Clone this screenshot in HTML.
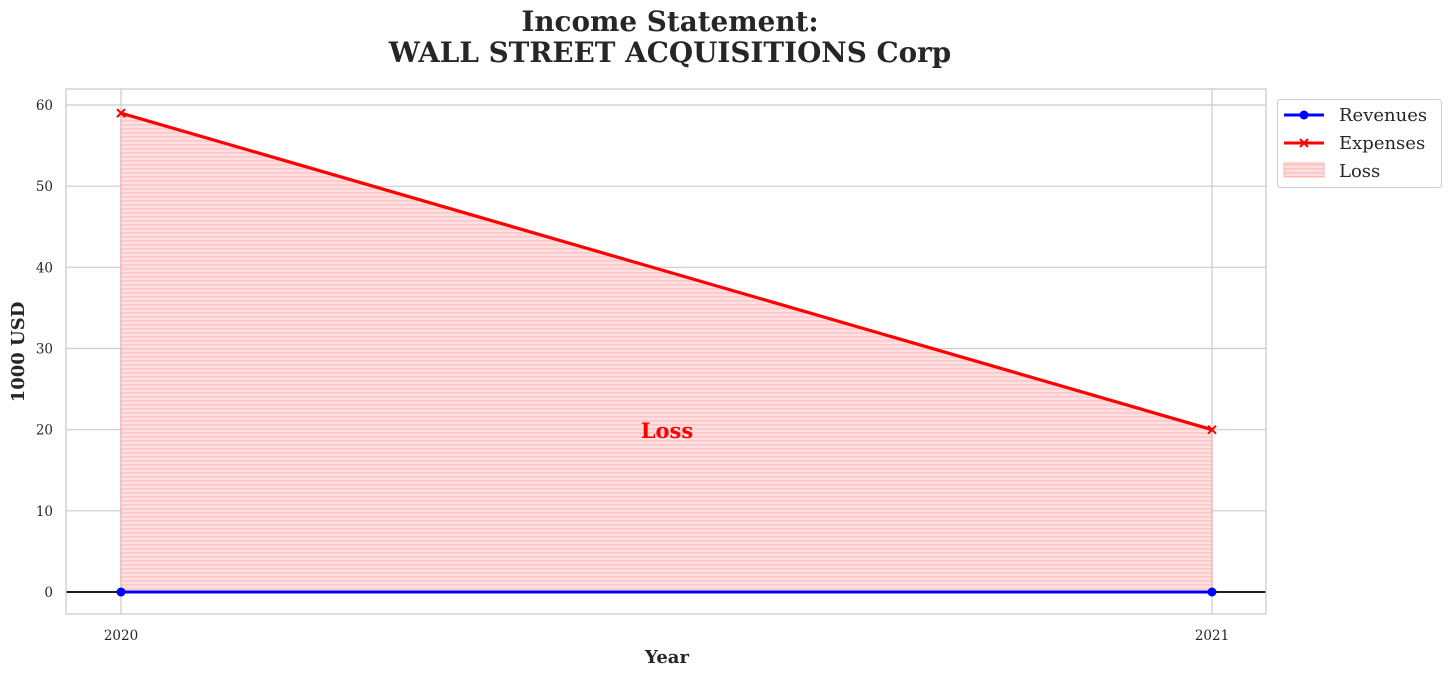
<!DOCTYPE html>
<html><head><meta charset="utf-8"><style>
body{margin:0;background:#fff;}
svg{display:block;font-family:"DejaVu Serif","Liberation Serif",serif;}
</style></head><body>
<svg id="chart" width="1452" height="676" viewBox="0 0 1452 676">
<defs>
<pattern id="hatch" width="8" height="4" patternUnits="userSpaceOnUse">
<rect width="8" height="4" fill="#ffdede"/>
<rect y="0" width="8" height="1.6" fill="#ffc4c4"/>
</pattern>
</defs>
<text x="670" y="31" text-anchor="middle" font-size="27.8" font-weight="bold" fill="#262626">Income Statement:</text>
<text x="670" y="62" text-anchor="middle" font-size="27.8" font-weight="bold" fill="#262626">WALL STREET ACQUISITIONS Corp</text>
<g id="grid"></g>
<g id="fill"></g>
<g id="axes"></g>
<g id="series"></g>
<rect x="66" y="89" width="1200" height="525" fill="none" stroke="#ccc" stroke-width="1.3"/>
<text x="667" y="438" text-anchor="middle" font-size="21" font-weight="bold" fill="#ff0000">Loss</text>
<text x="667" y="663" text-anchor="middle" font-size="18" font-weight="bold" fill="#262626">Year</text>
<text transform="translate(24,352) rotate(-90)" text-anchor="middle" font-size="18" font-weight="bold" fill="#262626">1000 USD</text>
<g>
<rect x="1277.5" y="99.5" width="164" height="88" rx="3" fill="#fff" stroke="#ccc"/>
<g><line x1="1284" y1="115" x2="1324" y2="115" stroke="#0000ff" stroke-width="3"/><circle cx="1304" cy="115" r="4.5" fill="#0000ff"/><text x="1339" y="121" font-size="18" fill="#262626">Revenues</text></g>
<g><line x1="1284" y1="143" x2="1324" y2="143" stroke="#ff0000" stroke-width="3"/><path d="M1300 139l8 8M1308 139l-8 8" stroke="#ff0000" stroke-width="2"/><text x="1339" y="149" font-size="18" fill="#262626">Expenses</text></g>
<g><rect x="1284" y="163" width="40" height="14" fill="url(#hatch)" stroke="#ffb0b0"/><text x="1339" y="177" font-size="18" fill="#262626">Loss</text></g>
</g>
</svg>
<script>
const years=["2020","2021"];
const revenues=[0,0];
const expenses=[59,20];
const yTicks=[0,10,20,30,40,50,60];
const NS="http://www.w3.org/2000/svg";
function xS(i){return 121+i*(1212-121)/(years.length-1);}
function yS(v){return 592-v*(592-105)/60;}
function mk(p,t,a){const e=document.createElementNS(NS,t);for(const k in a)e.setAttribute(k,a[k]);p.appendChild(e);return e;}
const grid=document.getElementById('grid'),axes=document.getElementById('axes'),fill=document.getElementById('fill'),ser=document.getElementById('series');
yTicks.forEach(v=>{
 const l=mk(grid,'line',{x1:66,x2:1266,y1:yS(v),y2:yS(v),stroke:'#ccc','stroke-width':1.2});
 
 
 const t=mk(axes,'text',{x:53,y:yS(v)+5,'text-anchor':'end','font-size':13.5,fill:'#262626'});
 t.textContent=v;
 
 
});
years.forEach((y,i)=>{
 const l=mk(grid,'line',{x1:xS(i),x2:xS(i),y1:89,y2:614,stroke:'#ccc','stroke-width':1.2});
 
 
 const t=mk(axes,'text',{x:xS(i),y:640,'text-anchor':'middle','font-size':13.5,fill:'#262626'});
 t.textContent=y;
 
 
});
let d='';expenses.forEach((v,i)=>{d+=(i?'L':'M')+xS(i)+' '+yS(v);});
for(let i=revenues.length-1;i>=0;i--)d+='L'+xS(i)+' '+yS(revenues[i]);
const poly=mk(fill,'path',{d:d+'Z',fill:'url(#hatch)',stroke:'#e8a0a0','stroke-width':1,'fill-opacity':0.95});


const zl=mk(axes,'line',{x1:66,x2:1266,y1:yS(0),y2:yS(0),stroke:'#000','stroke-width':1.8});


const rp=mk(ser,'polyline',{points:revenues.map((v,i)=>xS(i)+','+yS(v)).join(' '),fill:'none',stroke:'#0000ff','stroke-width':3});


revenues.forEach((v,i)=>{const c=mk(ser,'circle',{cx:xS(i),cy:yS(v),r:4.5,fill:'#0000ff'});
 
 });
const ep=mk(ser,'polyline',{points:expenses.map((v,i)=>xS(i)+','+yS(v)).join(' '),fill:'none',stroke:'#ff0000','stroke-width':3.2});


expenses.forEach((v,i)=>{const x=xS(i),y=yS(v);const m=mk(ser,'path',{d:`M${x-4} ${y-4}l8 8M${x+4} ${y-4}l-8 8`,stroke:'#ff0000','stroke-width':2});
 
 });
</script>
</body></html>
